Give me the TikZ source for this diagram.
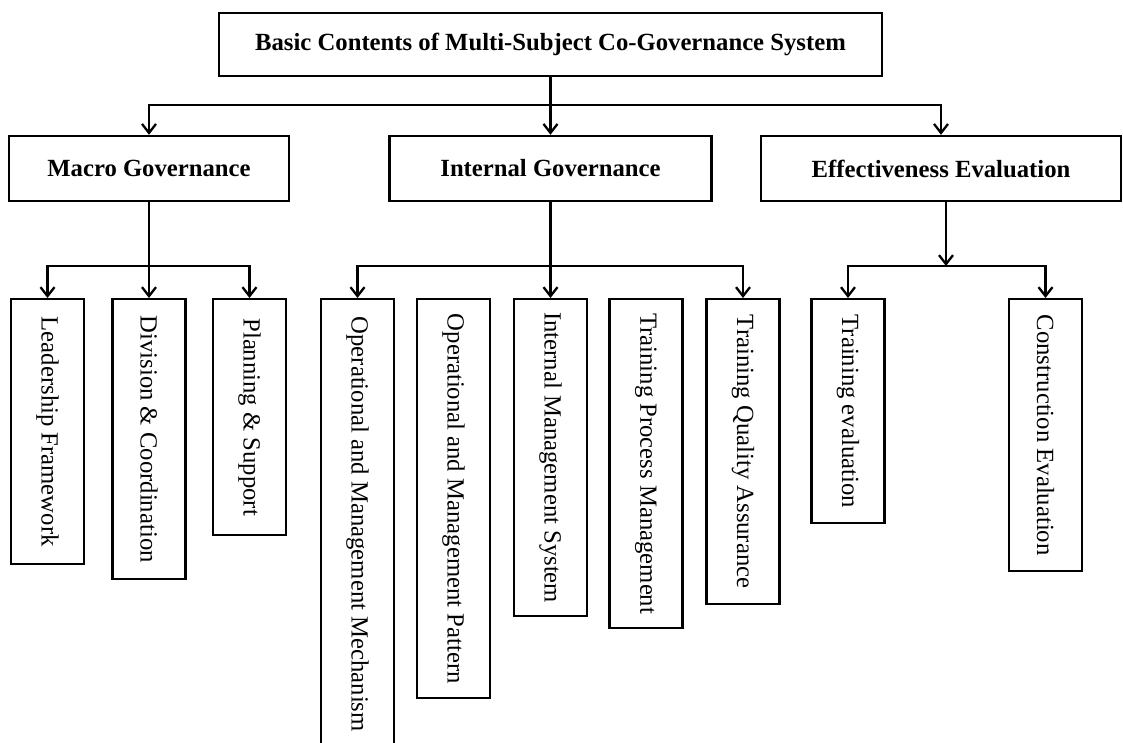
\documentclass[tikz,border=0pt]{standalone}
\usepackage{fontspec}
\setmainfont{Liberation Serif}
\usetikzlibrary{arrows.meta}

\begin{document}
\begin{tikzpicture}[x=1pt, y=-1pt,
	  headbox/.style={draw, line width=2.4pt, inner sep=0pt, font=\fontsize{24.7}{29}\selectfont\bfseries},
	  leafbox/.style={draw, line width=2.4pt, inner sep=0pt, rotate=-90, anchor=west, minimum height=73pt, font=\fontsize{24.7}{29}\selectfont},
	  link/.style={line width=2.3pt},
	  arr/.style={link, -{Straight Barb[length=9pt, width=14pt, line width=2.3pt]}}]
	  \useasboundingbox (0,0) rectangle (1123,742);
	  \node[headbox, minimum width=663pt, minimum height=63pt] (root) at (550.5,44.5) {Basic Contents of Multi-Subject Co-Governance System};
	  \node[headbox, minimum width=280pt, minimum height=65pt] (macro) at (149,168.5) {Macro Governance};
	  \node[headbox, minimum width=322pt, minimum height=65pt] (internal) at (550.5,168.5) {Internal Governance};
	  \node[headbox, minimum width=360pt, minimum height=65pt] (effect) at (941,168.5) {Effectiveness Evaluation};
	  % leaves
	  \node[leafbox, minimum width=265pt] (lead) at (47.5,298) {Leadership Framework};
	  \node[leafbox, minimum width=280pt] (div) at (149,298) {Division \& Coordination};
	  \node[leafbox, minimum width=236pt] (plan) at (249.5,298) {Planning \& Support};
	  \node[leafbox, minimum width=450pt] (mech) at (357.5,298) {Operational and Management Mechanism};
	  \node[leafbox, minimum width=399pt] (pattern) at (453.5,298) {Operational and Management Pattern};
	  \node[leafbox, minimum width=317pt] (imsys) at (550.5,298) {Internal Management System};
	  \node[leafbox, minimum width=329pt] (tproc) at (646,298) {Training Process Management};
	  \node[leafbox, minimum width=305pt] (tqual) at (743,298) {Training Quality Assurance};
	  \node[leafbox, minimum width=224pt] (teval) at (848,298) {Training evaluation};
	  \node[leafbox, minimum width=272pt] (ceval) at (1045.5,298) {Construction Evaluation};
	  % connectors
	  \coordinate (top) at (550.5,105);
	  \coordinate (msplit) at (149,266);
	  \coordinate (isplit) at (550.5,266);
	  \coordinate (esplit) at (946,266);
	  \draw[arr] (root.south) -- (internal.north);
	  \draw[arr] (top) -| (macro.north);
	  \draw[arr] (top) -| (effect.north);
	  \draw[arr] (macro.south) -- (div.west);
	  \draw[arr] (msplit) -| (lead.west);
	  \draw[arr] (msplit) -| (plan.west);
	  \draw[arr] (internal.south) -- (imsys.west);
	  \draw[arr] (isplit) -| (mech.west);
	  \draw[arr] (isplit) -| (tqual.west);
	  \draw[arr] (effect.south -| esplit) -- (esplit);
	  \draw[arr] (esplit) -| (teval.west);
	  \draw[arr] (esplit) -| (ceval.west);
\end{tikzpicture}
\end{document}
